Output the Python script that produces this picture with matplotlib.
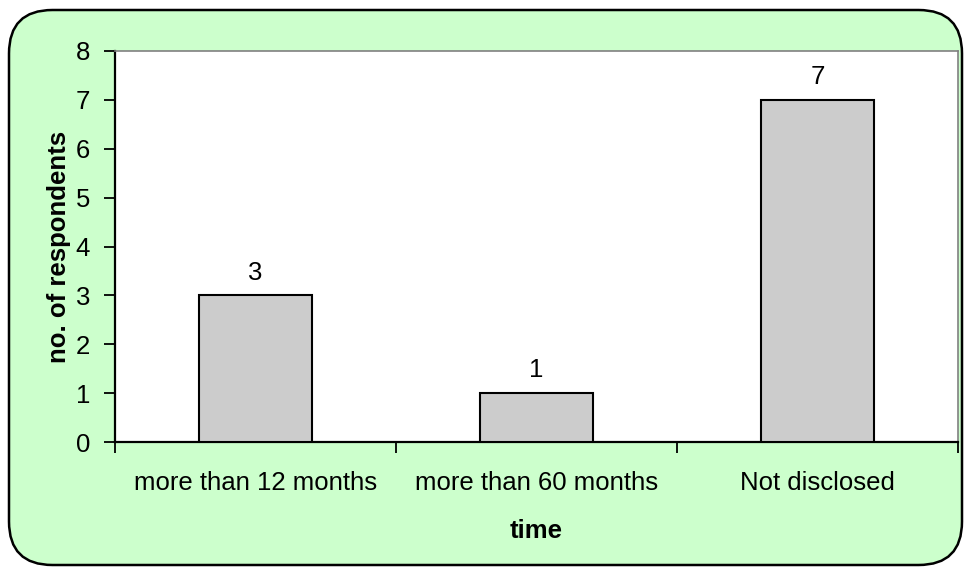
import matplotlib
matplotlib.use("Agg")
import matplotlib.pyplot as plt
from matplotlib.patches import FancyBboxPatch

categories = ["more than 12 months", "more than 60 months", "Not disclosed"]
respondents = [3, 1, 7]
y_ticks = [0, 1, 2, 3, 4, 5, 6, 7, 8]

plt.rcParams["font.family"] = ["Liberation Sans", "DejaVu Sans"]

W, H = 966, 568
fig = plt.figure(figsize=(W / 100, H / 100), dpi=100, facecolor="white")

# rounded green panel behind the chart
panel = FancyBboxPatch((9 / W, 3 / H), (953 / W), (555 / H),
                       boxstyle="round,pad=0,rounding_size=0.045",
                       transform=fig.transFigure, facecolor="#CCFFCC",
                       edgecolor="black", linewidth=1.8,
                       mutation_aspect=W / H, zorder=-5)
fig.patches.append(panel)

left, right, top, bottom = 115, 958, 51, 442
ax = fig.add_axes([left / W, (H - bottom) / H, (right - left) / W, (bottom - top) / H])
ax.set_facecolor("white")

x = list(range(len(categories)))
bars = ax.bar(x, respondents, width=0.4, color="#CCCCCC", edgecolor="black",
              linewidth=1.5, zorder=3)
for xi, v in zip(x, respondents):
    ax.text(xi, v + 0.22, str(v), ha="center", va="bottom", fontsize=18.5)

ax.set_xlim(-0.5, len(categories) - 0.5)
ax.set_ylim(0, 8)
ax.set_yticks(y_ticks)
ax.set_xticks(x)
ax.set_xticklabels(categories, fontsize=18.5)
ax.set_xticks([i - 0.5 for i in range(len(categories) + 1)], minor=True)
ax.tick_params(axis="x", which="major", length=0, pad=21)
ax.tick_params(axis="x", which="minor", length=8, width=1.3, direction="out")
ax.tick_params(axis="y", length=8, width=1.3, direction="out", labelsize=18.5, pad=10)

for s in ("left", "bottom"):
    ax.spines[s].set_color("black")
    ax.spines[s].set_linewidth(1.6)
for s in ("top", "right"):
    ax.spines[s].set_color("#808080")
    ax.spines[s].set_linewidth(1.2)

ax.set_xlabel("time", fontsize=18.5, fontweight="bold", labelpad=17)
ax.set_ylabel("no. of respondents", fontsize=18.5, fontweight="bold", labelpad=3)

fig.savefig("out.png", dpi=100, facecolor="white")
